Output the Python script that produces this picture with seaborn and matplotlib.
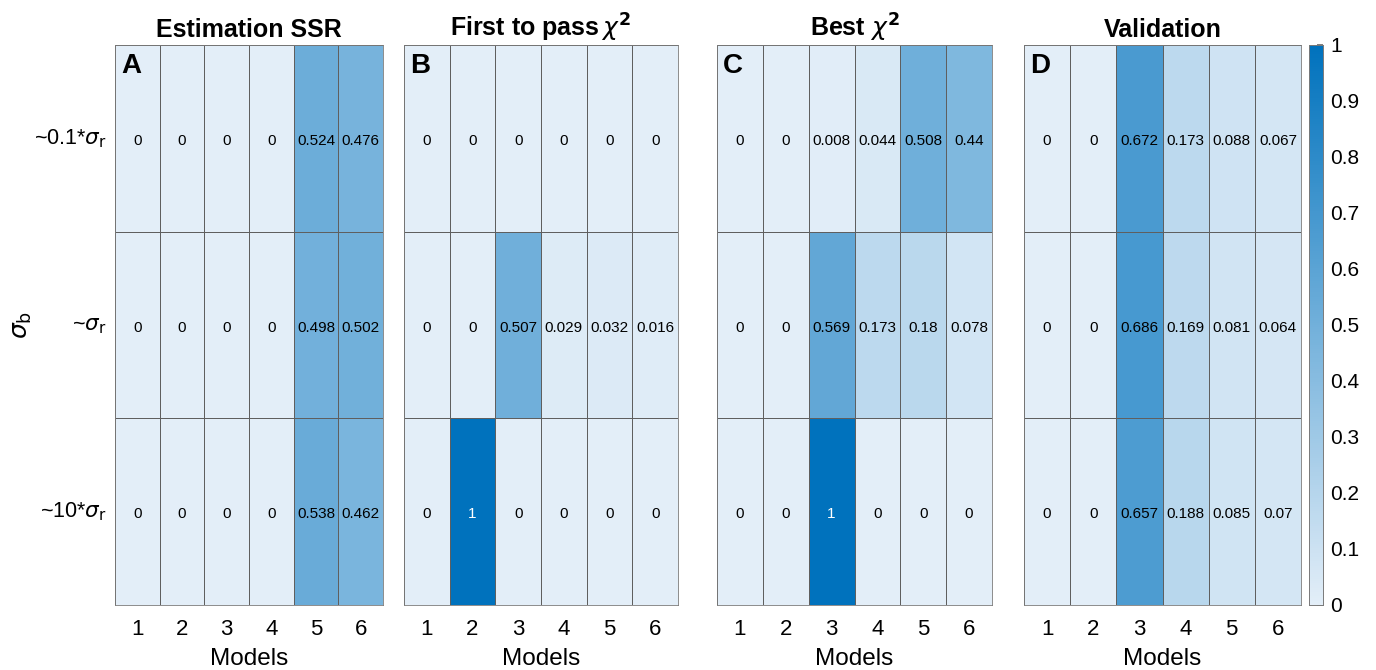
import numpy as np
import pandas as pd
import matplotlib
matplotlib.use("Agg")
import matplotlib.pyplot as plt
import seaborn as sns
from matplotlib.colors import LinearSegmentedColormap

sns.set_theme(style="white")
plt.rcParams['font.family'] = ['Liberation Sans', 'DejaVu Sans']
plt.rcParams['mathtext.fontset'] = 'dejavusans'
plt.rcParams['text.color'] = 'black'
plt.rcParams['axes.labelcolor'] = 'black'
plt.rcParams['xtick.color'] = 'black'
plt.rcParams['ytick.color'] = 'black'

models = ["1", "2", "3", "4", "5", "6"]
noise_labels = [r"~0.1*$\sigma_\mathrm{r}$", r"~$\sigma_\mathrm{r}$", r"~10*$\sigma_\mathrm{r}$"]
titles = ["Estimation SSR", r"First to pass$\,\chi^{\mathbf{2}}$", r"Best $\chi^{\mathbf{2}}$", "Validation"]
letters = ["A", "B", "C", "D"]

estimation_ssr = [
    [0, 0, 0, 0, 0.524, 0.476],
    [0, 0, 0, 0, 0.498, 0.502],
    [0, 0, 0, 0, 0.538, 0.462],
]
first_to_pass = [
    [0, 0, 0, 0, 0, 0],
    [0, 0, 0.507, 0.029, 0.032, 0.016],
    [0, 1, 0, 0, 0, 0],
]
best_chi2 = [
    [0, 0, 0.008, 0.044, 0.508, 0.44],
    [0, 0, 0.569, 0.173, 0.18, 0.078],
    [0, 0, 1, 0, 0, 0],
]
validation = [
    [0, 0, 0.672, 0.173, 0.088, 0.067],
    [0, 0, 0.686, 0.169, 0.081, 0.064],
    [0, 0, 0.657, 0.188, 0.085, 0.07],
]
panels = [estimation_ssr, first_to_pass, best_chi2, validation]

cmap = LinearSegmentedColormap.from_list("mblue", ["#e3eef8", "#0072bd"])

fig = plt.figure(figsize=(13.76, 6.70), dpi=100)
W, H = 1376, 670
boxes = [(115, 383), (404, 678), (717, 992), (1024, 1301)]
top, bottom = 45, 605
cax = fig.add_axes([1309 / W, 1 - bottom / H, 14 / W, (bottom - top) / H])

for i, (data, (x0, x1)) in enumerate(zip(panels, boxes)):
    ax = fig.add_axes([x0 / W, 1 - bottom / H, (x1 - x0) / W, (bottom - top) / H])
    df = pd.DataFrame(data, index=noise_labels, columns=models)
    annot = np.vectorize(lambda v: f"{v:g}")(df.values)
    sns.heatmap(df, ax=ax, cmap=cmap, vmin=0, vmax=1, annot=annot, fmt="",
                annot_kws={"fontsize": 11, "color": "black"},
                linewidths=0.5, linecolor="#5f5f5f",
                cbar=(i == 3), cbar_ax=cax if i == 3 else None)
    for t, v in zip(ax.texts, df.values.flatten()):
        t.set_color("white" if v > 0.8 else "black")
        t.set_y(t.get_position()[1] + 0.015)
    ax.set_title(titles[i], fontsize=18, fontweight="bold", pad=6)
    ax.set_xlabel("Models", fontsize=17.5, labelpad=6)
    ax.tick_params(axis="x", labelsize=16, length=0, pad=10)
    ax.set_xticklabels(models, rotation=0)
    if i == 0:
        ax.set_yticklabels(noise_labels, rotation=0, fontsize=15.5)
        ax.tick_params(axis="y", length=0, pad=6)
        ax.set_ylabel(r"$\sigma_\mathrm{b}$", fontsize=18, labelpad=0)
    else:
        ax.set_yticks([])
        ax.set_ylabel("")
    for s in ax.spines.values():
        s.set_visible(True)
        s.set_color("#7a7a7a")
        s.set_linewidth(0.6)
    ax.text(0.022, 0.985, letters[i], transform=ax.transAxes, fontsize=20,
            fontweight="bold", va="top", ha="left", color="black")

cax.set_yticks(np.arange(0, 1.01, 0.1))
cax.set_yticklabels(["0", "0.1", "0.2", "0.3", "0.4", "0.5", "0.6", "0.7", "0.8", "0.9", "1"])
cax.tick_params(labelsize=15, length=4, direction="in", color="#6e6e6e", right=True, pad=5)
for s in cax.spines.values():
    s.set_visible(True)
    s.set_color("#7a7a7a")
    s.set_linewidth(0.6)

fig.savefig("out.png", dpi=100)
